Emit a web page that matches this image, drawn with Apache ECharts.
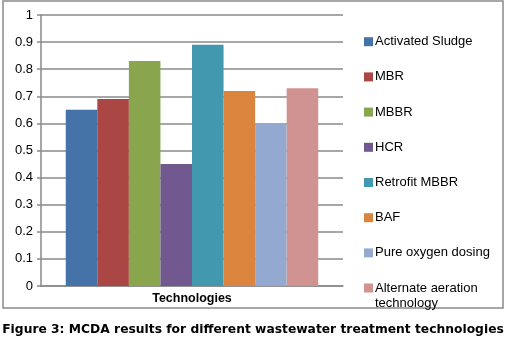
<!DOCTYPE html>
<html><head><meta charset="utf-8">
<script src="https://cdn.jsdelivr.net/npm/echarts@6/dist/echarts.min.js"></script>
<style>html,body{margin:0;padding:0;background:#fff}#c{width:507px;height:348px}</style>
</head><body><div id="c"></div>
<script>
const categories = ['Technologies'];
const seriesNames = ['Activated Sludge','MBR','MBBR','HCR','Retrofit MBBR','BAF','Pure oxygen dosing','Alternate aeration technology'];
const seriesValues = [0.65, 0.69, 0.83, 0.45, 0.89, 0.72, 0.60, 0.73];
const colors = ['#4572A7','#AA4643','#89A54E','#71588F','#4198AF','#DB843D','#93A9CF','#D19392'];
const caption = 'Figure 3: MCDA results for different wastewater treatment technologies';

const chart = echarts.init(document.getElementById('c'), null, {renderer:'canvas'});
const font = '"Liberation Sans", Arial, sans-serif';
const series = seriesNames.map((n,i)=>({
  name:n, type:'bar', data:[seriesValues[i]],
  itemStyle:{color:colors[i]}, barGap:'0%', barCategoryGap:'16.4%'
}));
chart.setOption({
  animation:false,
  backgroundColor:'#fff',
  color: colors,
  grid:{left:41, top:15, right:164, bottom:62, containLabel:false},
  xAxis:{type:'category', data:categories,
    axisLine:{show:true, lineStyle:{color:'#8a8a8a', width:1.5}},
    axisTick:{show:false},
    axisLabel:{color:'#000', fontFamily:font, fontSize:12.5, fontWeight:'bold', margin:6}},
  yAxis:{type:'value', min:0, max:1, interval:0.1,
    axisLine:{show:true, lineStyle:{color:'#8a8a8a', width:1.5}},
    axisTick:{show:true, length:4, lineStyle:{color:'#8a8a8a', width:1.5}},
    splitLine:{show:true, lineStyle:{color:'#8a8a8a', width:1.5}},
    axisLabel:{color:'#000', fontFamily:font, fontSize:13, margin:8}},
  legend:[{
    orient:'vertical', left:364, top:33.7, padding:0, itemWidth:9, itemHeight:9, itemGap:19.2,
    icon:'rect', data:seriesNames.slice(0,7),
    textStyle:{color:'#000', fontFamily:font, fontSize:13, lineHeight:16, padding:[0,0,0,-3]}
  },{
    orient:'vertical', left:364, top:265.5, padding:0, itemWidth:9, itemHeight:9,
    icon:'rect', data:seriesNames.slice(7),
    formatter:function(){return '{e| }\n{a|Alternate aeration}\n{a|technology}';},
    textStyle:{color:'#000', fontFamily:font, fontSize:13, lineHeight:15, padding:[0,0,0,-3],
      rich:{e:{lineHeight:15, fontSize:13, fontFamily:font}, a:{lineHeight:15, fontSize:13, fontFamily:font, color:'#000'}}}
  }],
  graphic:[
    {type:'rect', shape:{x:3, y:1, width:500, height:307}, style:{fill:'none', stroke:'#8a8a8a', lineWidth:1.5}, silent:true},
    {type:'text', x:253, y:330, style:{text:caption, fill:'#000', font:'bold 12.3px "DejaVu Sans", Verdana, sans-serif', align:'center', verticalAlign:'middle'}}
  ],
  series: series
});
</script></body></html>
